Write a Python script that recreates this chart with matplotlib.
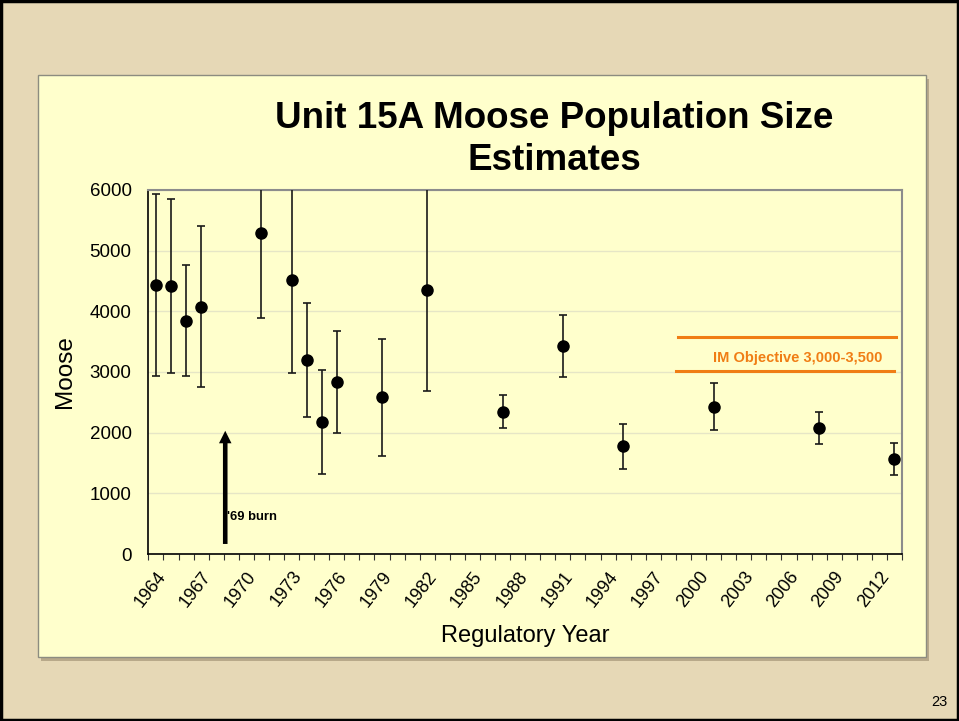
import matplotlib
matplotlib.use("Agg")
import matplotlib.pyplot as plt
from matplotlib.patches import Rectangle
from matplotlib.ticker import FixedLocator, NullFormatter

plt.rcParams['font.family'] = ['Liberation Sans', 'DejaVu Sans']

# survey years and moose estimates with confidence limits
years = [1964, 1965, 1966, 1967, 1971, 1973, 1974, 1975, 1976, 1979,
         1982, 1987, 1991, 1995, 2001, 2008, 2013]
estimate = [4437, 4415, 3843, 4074, 5293, 4514, 3196, 2170, 2829, 2588,
            4351, 2346, 3434, 1775, 2428, 2082, 1566]
lower = [2932, 2977, 2932, 2756, 3883, 2987, 2257, 1313, 1988, 1620,
         2692, 2072, 2918, 1401, 2044, 1818, 1297]
upper = [5930, 5848, 4756, 5408, 6700, 6500, 4130, 3031, 3674, 3549,
         6400, 2621, 3939, 2148, 2813, 2346, 1835]

tick_years = list(range(1964, 2013, 3))

# IM objective band as drawn on the slide
objective_low = 3020
objective_high = 3570
objective_years = [1998.5, 2013.0]
burn_year = 1968.6

fig = plt.figure(figsize=(9.59, 7.21), dpi=100)
fig.patch.set_facecolor('#E6D8B6')

# slide panel
fig.patches.append(Rectangle((0.0425, 0.083), 0.926, 0.807, transform=fig.transFigure,
                             facecolor='#B8A98A', edgecolor='none', zorder=-2))
fig.patches.append(Rectangle((0.0396, 0.0888), 0.926, 0.807, transform=fig.transFigure,
                             facecolor='#FFFFCC', edgecolor='#8C8C80', lw=1.0, zorder=-1))
fig.patches.append(Rectangle((0.001, 0.001), 0.998, 0.998, transform=fig.transFigure,
                             facecolor='none', edgecolor='black', lw=2.5, zorder=5))

ax = fig.add_axes([0.1547, 0.2316, 0.7859, 0.5049])
ax.set_facecolor('#FFFFCC')

yerr = [[e - l for e, l in zip(estimate, lower)],
        [u - e for u, e in zip(upper, estimate)]]
ax.errorbar(years, estimate, yerr=yerr, fmt='o', color='black', ecolor='#1A1A1A',
            elinewidth=1.2, capsize=2.8, capthick=1.2, markersize=8, zorder=3)

ax.set_xlim(1963.5, 2013.5)
ax.set_ylim(0, 6000)
ax.set_yticks(range(0, 6001, 1000))
ax.yaxis.grid(True, color='#E6E6C6', lw=1.0)
ax.set_axisbelow(True)

ax.set_xticks(tick_years)
ax.set_xticklabels([str(y) for y in tick_years], rotation=52, ha='right',
                   rotation_mode='anchor', fontsize=13)
ax.xaxis.set_minor_locator(FixedLocator([y + 0.5 for y in range(1963, 2014)]))
ax.xaxis.set_minor_formatter(NullFormatter())
ax.tick_params(axis='x', which='major', length=0, pad=10)
ax.tick_params(axis='x', which='minor', length=4, width=0.8, color='#333333', direction='out')
ax.tick_params(axis='y', which='major', length=0, pad=12, labelsize=13.5)

for side in ['top', 'right']:
    ax.spines[side].set_color('#8C8C8C')
    ax.spines[side].set_linewidth(1.5)
for side in ['left', 'bottom']:
    ax.spines[side].set_color('black')
    ax.spines[side].set_linewidth(1.2)

ax.set_ylabel('Moose', fontsize=17.5, labelpad=10)
ax.set_xlabel('Regulatory Year', fontsize=17, labelpad=11)

# IM objective lines and label
ax.plot([objective_years[0] + 0.15, objective_years[1] + 0.1], [objective_high] * 2,
        color='#F07D14', lw=2.2, clip_on=False)
ax.plot(objective_years, [objective_low] * 2, color='#F07D14', lw=2.2, clip_on=False)
ax.text(2006.55, 3236, 'IM Objective 3,000-3,500', color='#F07D14', fontsize=10.5,
        fontweight='bold', ha='center', va='center')

# '69 burn arrow
ax.annotate('', xy=(burn_year, 2077), xytext=(burn_year, 120),
            arrowprops=dict(arrowstyle='simple,head_length=0.6,head_width=0.6,tail_width=0.22',
                            mutation_scale=15, color='black', lw=0))
ax.text(burn_year + 0.1, 615, "'69 burn", fontsize=9.4, fontweight='bold',
        ha='left', va='center')

fig.text(0.578, 0.806, 'Unit 15A Moose Population Size\nEstimates', ha='center',
         va='center', fontsize=26.5, fontweight='bold', linespacing=1.25)
fig.text(0.988, 0.026, '23', ha='right', va='center', fontsize=10.5)

fig.savefig('out.png', dpi=100, facecolor=fig.get_facecolor())
